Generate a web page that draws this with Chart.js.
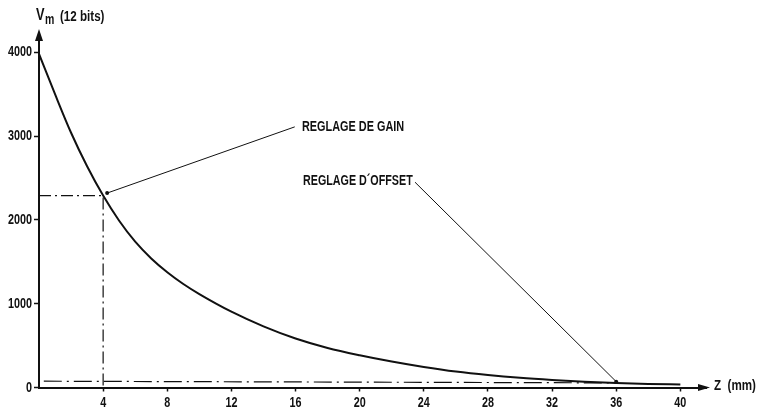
<!DOCTYPE html>
<html>
<head>
<meta charset="utf-8">
<script src="https://cdn.jsdelivr.net/npm/chart.js@4"></script>
<style>
html,body{margin:0;padding:0;background:#fff;}
#wrap{width:759px;height:410px;}
</style>
</head>
<body>
<div id="wrap"><canvas id="c" width="759" height="410"></canvas></div>
<script>
// ---- data ----
const zValues   = [0, 1, 2, 3, 4, 5, 6, 7, 8, 9, 10, 12, 14, 16, 18, 20, 22, 24, 26, 28, 30, 32, 34, 36, 38, 40];
const vmValues  = [3980, 3500, 3040, 2640, 2290, 1990, 1740, 1540, 1375, 1235, 1115, 905, 730, 585, 472, 385, 310, 245, 190, 148, 115, 90, 70, 55, 43, 35];
const xTicks    = [4, 8, 12, 16, 20, 24, 28, 32, 36, 40];
const yTicks    = [0, 1000, 2000, 3000, 4000];
const gainGuideZ  = [0, 4, 4];
const gainGuideV  = [2290, 2290, 0];
const offsetLineZ = [0.3, 36];
const offsetLineV = [75, 55];
const gainLeaderZ = [4.25, 15.95];
const gainLeaderV = [2320, 3110];
const offLeaderZ  = [36, 23.45];
const offLeaderV  = [70, 2450];
const labelGain   = "REGLAGE DE GAIN";
const labelOffset = "REGLAGE D\u00B4OFFSET";
const yTitleMain  = "V";
const yTitleSub   = "m";
const yTitleRest  = "(12 bits)";
const xTitle      = "Z  (mm)";

const pts = (xs, ys) => xs.map((x, i) => ({x: x, y: ys[i]}));
const FONT = '"Liberation Sans", Arial, sans-serif';
const INK = '#111';
const SQUEEZE = 0.72;

function condText(ctx, txt, x, y, size, sx) {
  ctx.save();
  ctx.font = 'bold ' + size + 'px ' + FONT;
  ctx.translate(x, y);
  ctx.scale(sx, 1);
  ctx.fillText(txt, 0, 0);
  ctx.restore();
}

// draws the library's own tick labels in a condensed form
const condense = {
  id: 'condense',
  beforeDraw(chart) {
    const ctx = chart.ctx;
    if (ctx._origFill) return;
    const orig = ctx.fillText;
    ctx._origFill = orig;
    ctx.fillText = function (t, x, y) {
      this.save();
      this.translate(x, y);
      this.scale(SQUEEZE, 1);
      orig.call(this, t, 0, 0);
      this.restore();
    };
  },
  afterDraw(chart) {
    const ctx = chart.ctx;
    if (ctx._origFill) { ctx.fillText = ctx._origFill; delete ctx._origFill; }
  }
};

const overlay = {
  id: 'overlay',
  afterDraw(chart) {
    const ctx = chart.ctx, a = chart.chartArea;
    const xs = chart.scales.x, ys = chart.scales.y;
    ctx.save();
    ctx.fillStyle = INK;
    // axis arrows
    const x0 = xs.getPixelForValue(0), y0 = ys.getPixelForValue(0);
    ctx.beginPath();
    ctx.moveTo(x0, a.top - 4);
    ctx.lineTo(x0 - 4, a.top + 8);
    ctx.lineTo(x0 + 4, a.top + 8);
    ctx.closePath(); ctx.fill();
    ctx.beginPath();
    ctx.moveTo(a.right + 4, y0);
    ctx.lineTo(a.right - 8, y0 - 3.5);
    ctx.lineTo(a.right - 8, y0 + 3.5);
    ctx.closePath(); ctx.fill();
    // axis titles
    ctx.textBaseline = 'middle';
    ctx.textAlign = 'left';
    condText(ctx, yTitleMain, 36, 16, 16, 0.8);
    condText(ctx, yTitleSub, 45, 20, 14, 0.75);
    condText(ctx, yTitleRest, 60, 17, 14.5, 0.8);
    condText(ctx, xTitle, 714, y0 - 2, 14.5, 0.8);
    // annotation labels
    condText(ctx, labelGain, 302, ys.getPixelForValue(gainLeaderV[1]), 14.5, 0.75);
    condText(ctx, labelOffset, 303, ys.getPixelForValue(offLeaderV[1]) - 1, 14.5, 0.74);
    ctx.restore();
  }
};

const tickFont = { family: FONT, size: 15, weight: 'bold' };

new Chart(document.getElementById('c'), {
  type: 'line',
  data: {
    datasets: [
      { data: pts(zValues, vmValues), borderColor: INK, borderWidth: 2, pointRadius: 0, cubicInterpolationMode: 'monotone', fill: false },
      { data: pts(gainGuideZ, gainGuideV), borderColor: INK, borderWidth: 1.2, borderDash: [12, 4, 2, 4], pointRadius: 0, tension: 0 },
      { data: pts(offsetLineZ, offsetLineV), borderColor: INK, borderWidth: 1.2, borderDash: [18, 5, 2, 5], pointRadius: 0, tension: 0 },
      { data: pts(gainLeaderZ, gainLeaderV), borderColor: INK, borderWidth: 1, pointRadius: [2, 0], pointBackgroundColor: INK, pointBorderWidth: 0, tension: 0 },
      { data: pts(offLeaderZ, offLeaderV), borderColor: INK, borderWidth: 1, pointRadius: [2, 0], pointBackgroundColor: INK, pointBorderWidth: 0, tension: 0 }
    ]
  },
  options: {
    responsive: false,
    animation: false,
    devicePixelRatio: 1,
    layout: { padding: { left: 0, right: 53, top: 33, bottom: 0 } },
    plugins: { legend: { display: false }, tooltip: { enabled: false } },
    scales: {
      x: {
        type: 'linear', min: 0, max: 41.6,
        afterBuildTicks: s => { s.ticks = xTicks.map(v => ({value: v})); },
        afterFit: s => { s.height = 22.5; },
        grid: { display: true, drawOnChartArea: false, drawTicks: true, tickLength: 4, tickColor: INK, tickWidth: 1.5 },
        border: { display: true, color: INK, width: 2 },
        ticks: { color: INK, font: tickFont, padding: 2, maxRotation: 0, autoSkip: false, callback: v => String(v) }
      },
      y: {
        type: 'linear', min: 0, max: 4230,
        afterBuildTicks: s => { s.ticks = yTicks.map(v => ({value: v})); },
        afterFit: s => { s.width = 39; },
        grid: { display: true, drawOnChartArea: false, drawTicks: true, tickLength: 5, tickColor: INK, tickWidth: 1.5 },
        border: { display: true, color: INK, width: 2 },
        ticks: { color: INK, font: tickFont, padding: 2, autoSkip: false, callback: v => String(v) }
      }
    }
  },
  plugins: [condense, overlay]
});
</script>
</body>
</html>
